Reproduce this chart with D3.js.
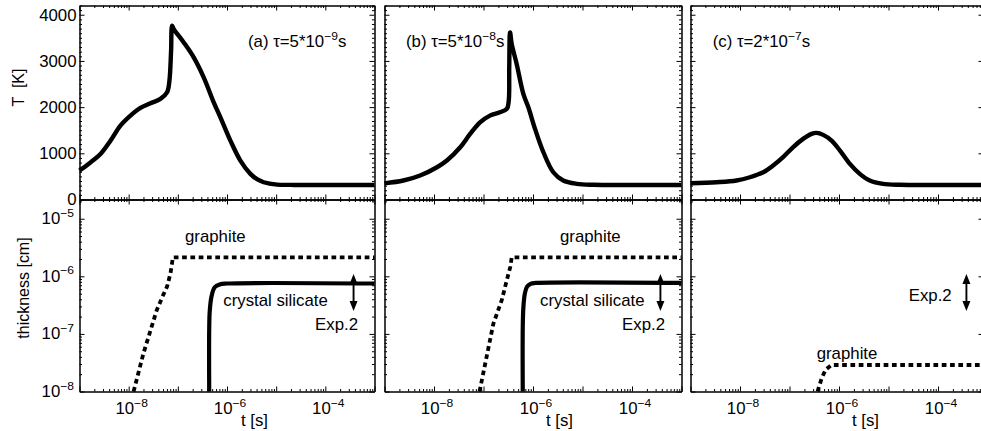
<!DOCTYPE html>
<html>
<head>
<meta charset="utf-8">
<script src="https://cdn.jsdelivr.net/npm/d3@7"></script>
<style>
html, body { margin: 0; padding: 0; background: #fff; }
svg { display: block; }
text { font-family: "Liberation Sans", Arial, Helvetica, sans-serif; fill: #000; }
</style>
</head>
<body>
<svg id="fig" width="981" height="431"></svg>
<script>
// ---- pulse durations of the three runs ----
const panelTags   = ["(a)", "(b)", "(c)"];
const tauMantissa = ["5", "5", "2"];
const tauExponent = ["\u22129", "\u22128", "\u22127"];

// ---- temperature histories: [log10 t (s), T (K)] ----
const tempA = [
  [-9.000, 627], [-8.776, 803], [-8.573, 983], [-8.370, 1272], [-8.167, 1600],
  [-7.963, 1816], [-7.760, 1982], [-7.557, 2083], [-7.354, 2177], [-7.218, 2321],
  [-7.171, 2573], [-7.137, 3222], [-7.116, 3762], [-7.083, 3690], [-6.880, 3400],
  [-6.677, 3077], [-6.474, 2645], [-6.270, 2104], [-6.134, 1780], [-5.931, 1276],
  [-5.728, 843], [-5.524, 555], [-5.390, 440], [-5.254, 374], [-4.982, 322],
  [-4.700, 316], [-4.300, 315], [-3.000, 315]
];
const tempB = [
  [-9.000, 350], [-8.617, 411], [-8.280, 519], [-7.940, 698], [-7.740, 843],
  [-7.470, 1131], [-7.270, 1420], [-7.070, 1671], [-6.870, 1816], [-6.670, 1888],
  [-6.530, 1961], [-6.490, 2140], [-6.480, 2860], [-6.463, 3617], [-6.430, 3366],
  [-6.330, 2934], [-6.195, 2285], [-6.094, 1996], [-5.959, 1528], [-5.790, 1023],
  [-5.590, 590], [-5.390, 411], [-5.117, 339], [-4.780, 318], [-4.300, 315],
  [-3.000, 315]
];
const tempC = [
  [-9.000, 352], [-8.475, 374], [-8.070, 411], [-7.800, 482], [-7.530, 590],
  [-7.330, 735], [-7.130, 915], [-6.930, 1131], [-6.725, 1312], [-6.555, 1420],
  [-6.455, 1442], [-6.320, 1399], [-6.150, 1276], [-5.980, 1059], [-5.780, 772],
  [-5.580, 555], [-5.380, 411], [-5.110, 339], [-4.770, 318], [-4.300, 315],
  [-3.000, 315]
];

// ---- layer thickness: [log10 t (s), log10 thickness (cm)] ----
const graphiteA = [
  [-7.90, -8.00], [-7.70, -7.34], [-7.43, -6.59], [-7.30, -6.33], [-7.22, -6.18],
  [-7.15, -5.95], [-7.10, -5.67], [-3.00, -5.67]
];
const graphiteB = [
  [-7.08, -8.00], [-6.80, -6.82], [-6.63, -6.41], [-6.53, -6.07], [-6.46, -5.84],
  [-6.43, -5.67], [-3.00, -5.67]
];
const graphiteC = [
  [-6.434, -8.00], [-6.35, -7.77], [-6.27, -7.62], [-6.152, -7.54], [-3.00, -7.54]
];
const silicateA = [
  [-6.362, -8.00], [-6.362, -6.93], [-6.35, -6.59], [-6.31, -6.33], [-6.25, -6.19],
  [-6.15, -6.14], [-6.00, -6.125], [-3.00, -6.125]
];
const silicateB = [
  [-6.207, -8.00], [-6.207, -6.90], [-6.195, -6.55], [-6.165, -6.30], [-6.12, -6.18],
  [-6.05, -6.13], [-5.95, -6.115], [-3.00, -6.115]
];

// ---- measured thickness range of experiment 2 ----
const exp2Time  = 3.75e-4;
const exp2Range = [2.5e-7, 1.1e-6];

// ---- tick labels ----
const tempTicks      = [0, 1000, 2000, 3000, 4000];
const timeLabelExps  = [-8, -6, -4];
const thickLabelExps = [-5, -6, -7, -8];

// ---------------------------------------------------------------
const svg = d3.select("#fig");
const SX = 1.05;      // horizontal stretch of the lettering
const FS = 16, SUP = 11.5;

const cols = [
  { x0: 79.5,  x1: 374.5, tEnd: -3 },
  { x0: 384.5, x1: 681.5, tEnd: -3 },
  { x0: 690.5, x1: 983.5, tEnd: -9 + (983.5 - 690.5) / 49.5 }
];
const topRow = { y0: 5.5, y1: 199.5 };
const botRow = { y0: 199.5, y1: 391.5 };

const tempSeries = [tempA, tempB, tempC];
const graphiteSeries = [graphiteA, graphiteB, graphiteC];
const silicateSeries = [silicateA, silicateB, null];

// annotation placement per panel
const layout = [
  { title: [248, 47], graphite: [185, 242], silicate: [223.3, 306], exp: [358, 330] },
  { title: [406, 47], graphite: [560, 242], silicate: [540, 306],   exp: [665, 330] },
  { title: [712.7, 47], graphite: [816.7, 359], silicate: null,     exp: [951.7, 301] }
];

function addText(x, y, parts, anchor, rotate, size) {
  const t = svg.append("text")
    .attr("transform", `translate(${x},${y}) scale(${SX},1)` + (rotate ? " rotate(-90)" : ""))
    .attr("text-anchor", anchor || "start")
    .attr("font-size", size || FS)
    .attr("xml:space", "preserve")
    .style("white-space", "pre");
  let raised = false;
  parts.forEach(p => {
    const sp = t.append("tspan").text(p.s);
    if (p.sup) { sp.attr("font-size", SUP).attr("dy", -7.5); raised = true; }
    else if (raised) { sp.attr("dy", 7.5); raised = false; }
  });
  return t;
}

function decadeTicks(lo, hi) {
  const maj = [], min = [];
  for (let e = Math.floor(Math.log10(lo)); e <= Math.ceil(Math.log10(hi)); e++) {
    const v = Math.pow(10, e);
    if (v >= lo * 0.999 && v <= hi * 1.001) maj.push(v);
    for (let k = 2; k <= 9; k++) {
      const m = k * v;
      if (m > lo && m < hi) min.push(m);
    }
  }
  return { maj, min };
}

function styleAxis(sel) {
  sel.select(".domain").attr("stroke", "#000").attr("stroke-width", 1);
  sel.selectAll(".tick line").attr("stroke", "#000").attr("stroke-width", 1);
}

function drawFrame(x, y, xt, yt) {
  const [x0, x1] = x.range();
  const [yB, yT] = y.range();
  const g = svg.append("g");
  const put = (gen, tx, ty, vals, size) => g.append("g")
    .attr("transform", `translate(${tx},${ty})`)
    .call(gen.tickValues(vals).tickSize(size).tickSizeOuter(0).tickFormat(""))
    .call(styleAxis);
  put(d3.axisBottom(x), 0, yB, xt.min, -2.5);
  put(d3.axisTop(x), 0, yT, xt.min, -2.5);
  put(d3.axisBottom(x), 0, yB, xt.maj, -5);
  put(d3.axisTop(x), 0, yT, xt.maj, -5);
  put(d3.axisLeft(y), x0, 0, yt.min, -2.5);
  put(d3.axisLeft(y), x0, 0, yt.maj, -5);
  put(d3.axisRight(y), x1, 0, yt.min, -2.5);
  put(d3.axisRight(y), x1, 0, yt.maj, -5);
}

const tempMinor = d3.range(0, 4201, 100).filter(v => v % 1000 !== 0);
const tempMajor = d3.range(0, 4201, 1000);
const thickTop = Math.pow(10, -4.666);

cols.forEach((c, i) => {
  const x = d3.scaleLog().domain([1e-9, Math.pow(10, c.tEnd)]).range([c.x0, c.x1]);
  const yT = d3.scaleLinear().domain([0, 4200]).range([topRow.y1, topRow.y0]);
  const yD = d3.scaleLog().domain([1e-8, thickTop]).range([botRow.y1, botRow.y0]);
  const xt = decadeTicks(1e-9, Math.pow(10, c.tEnd));
  const dt = decadeTicks(1e-8, thickTop);

  // temperature history
  const tLine = d3.line()
    .x(d => x(Math.pow(10, d[0])))
    .y(d => yT(d[1]))
    .curve(d3.curveCatmullRom.alpha(0.5));
  svg.append("path").datum(tempSeries[i]).attr("d", tLine)
    .attr("fill", "none").attr("stroke", "#000").attr("stroke-width", 4.4)
    .attr("stroke-linejoin", "round");

  // layer thickness
  const dLine = d3.line()
    .x(d => x(Math.pow(10, d[0])))
    .y(d => yD(Math.pow(10, d[1])));
  svg.append("path").datum(graphiteSeries[i])
    .attr("d", dLine.curve(d3.curveLinear))
    .attr("fill", "none").attr("stroke", "#000").attr("stroke-width", 3.8)
    .attr("stroke-dasharray", "4.7,3.6");
  if (silicateSeries[i]) {
    svg.append("path").datum(silicateSeries[i])
      .attr("d", dLine.curve(d3.curveCatmullRom.alpha(0.5)))
      .attr("fill", "none").attr("stroke", "#000").attr("stroke-width", 4.2);
  }

  // experiment 2 range arrow
  const ax = x(exp2Time), aTop = yD(exp2Range[1]), aBot = yD(exp2Range[0]);
  const hl = 10, hw = 4;
  svg.append("line").attr("x1", ax).attr("x2", ax)
    .attr("y1", aTop + hl - 1).attr("y2", aBot - hl + 1)
    .attr("stroke", "#000").attr("stroke-width", 1.9);
  svg.append("path")
    .attr("d", `M${ax},${aTop}L${ax - hw},${aTop + hl}L${ax + hw},${aTop + hl}Z` +
               `M${ax},${aBot}L${ax - hw},${aBot - hl}L${ax + hw},${aBot - hl}Z`)
    .attr("fill", "#000");

  drawFrame(x, yT, xt, { maj: tempMajor, min: tempMinor });
  drawFrame(x, yD, xt, dt);

  // annotations
  const L = layout[i];
  addText(L.title[0], L.title[1], [
    { s: panelTags[i] + " \u03c4=" + tauMantissa[i] + "*10" },
    { s: tauExponent[i], sup: true },
    { s: "s" }
  ]);
  addText(L.graphite[0], L.graphite[1], [{ s: "graphite" }]);
  if (L.silicate) addText(L.silicate[0], L.silicate[1], [{ s: "crystal silicate" }]);
  addText(L.exp[0], L.exp[1], [{ s: "Exp.2" }], "end");

  // time axis labels
  timeLabelExps.forEach(e => {
    addText(x(Math.pow(10, e)) + 3, 414, [{ s: "10" }, { s: "\u2212" + (-e), sup: true }], "middle");
  });
  addText(c.x0 + 175, 426, [{ s: "t [s]" }], "middle");

  // value axis labels on the first column only
  if (i === 0) {
    tempTicks.forEach(v => addText(c.x0 - 3, yT(v) + 5.8, [{ s: String(v) }], "end"));
    thickLabelExps.forEach(e => addText(c.x0 - 5.5, yD(Math.pow(10, e)) + 5.5,
      [{ s: "10" }, { s: "\u2212" + (-e), sup: true }], "end"));
  }
});

addText(24, 87.5, [{ s: "T  [K]" }], "middle", true);
addText(29, 288, [{ s: "thickness [cm]" }], "middle", true);
</script>
</body>
</html>
